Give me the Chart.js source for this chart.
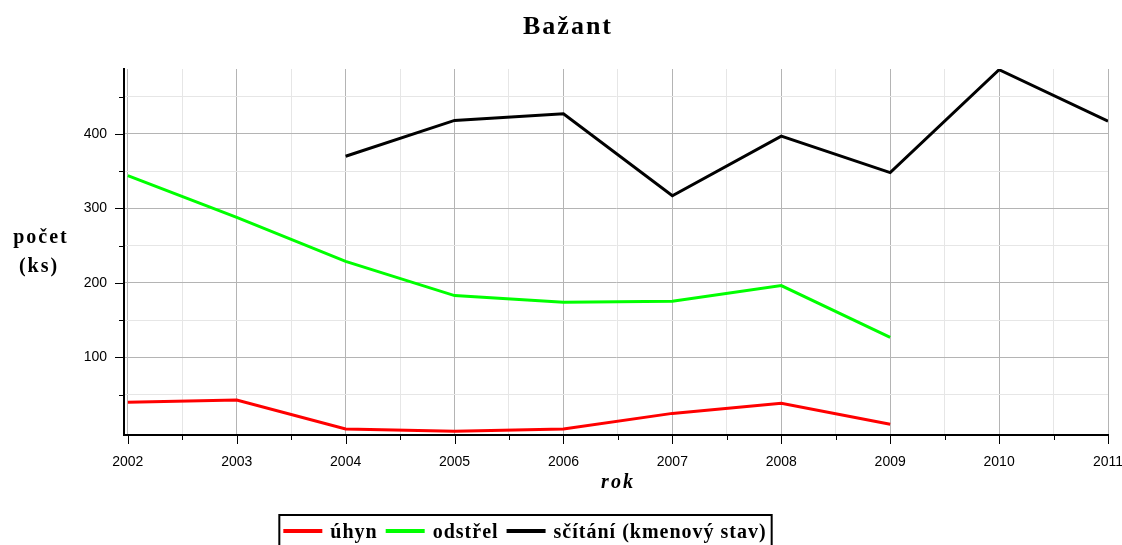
<!DOCTYPE html>
<html>
<head>
<meta charset="utf-8">
<script src="https://cdn.jsdelivr.net/npm/chart.js@4/dist/chart.umd.min.js"></script>
<style>
    body { margin: 0; background: #fff; }
    canvas { display: block; }
</style>
</head>
<body>
<canvas id="graf" width="1122" height="545"></canvas>
<script>
// data
const roky = [2002, 2003, 2004, 2005, 2006, 2007, 2008, 2009, 2010, 2011]
const uhyn = [40, 43, 4, 1, 4, 25, 38.5, 10.5, null, null]
const odstrel = [344, 288, 229, 183, 174, 175.5, 196.5, 127, null, null]
const scitani = [null, null, 370, 418, 427, 317, 397, 348, 486, 417]

const nazvy = ['úhyn', 'odstřel', 'sčítání (kmenový stav)']
const barvy = ['#ff0000', '#00ff00', '#000000']

const yTicky = [50, 100, 150, 200, 250, 300, 350, 400, 450]
const xTicky = [2002, 2002.5, 2003, 2003.5, 2004, 2004.5, 2005, 2005.5, 2006, 2006.5,
    2007, 2007.5, 2008, 2008.5, 2009, 2009.5, 2010, 2010.5, 2011]

const titulek = 'Bažant'
const popisY = ['počet', '(ks)']
const popisX = 'rok'

const serif = '"Liberation Serif", "Times New Roman", serif'

function body(hodnoty) {
    return roky.map((r, i) => ({ x: r, y: hodnoty[i] }))
}

// texty, čárky na osách a legenda
const kresleni = {
    id: 'kresleni',
    afterDraw(chart) {
        const c = chart.ctx
        const xs = chart.scales.x
        const ys = chart.scales.y
        const ca = chart.chartArea

        c.save()
        c.strokeStyle = '#000'
        c.lineWidth = 1
        c.beginPath()
        yTicky.forEach(v => {
            const py = Math.round(ys.getPixelForValue(v)) + 0.5
            const d = v % 100 === 0 ? 9 : 5
            c.moveTo(ca.left - d, py)
            c.lineTo(ca.left, py)
        })
        xTicky.forEach(v => {
            const px = Math.round(xs.getPixelForValue(v)) + 0.5
            const d = v % 1 === 0 ? 9 : 5
            c.moveTo(px, ca.bottom)
            c.lineTo(px, ca.bottom + d)
        })
        c.stroke()

        c.fillStyle = '#000'
        c.textAlign = 'center'
        c.textBaseline = 'alphabetic'

        c.font = 'bold 26px ' + serif
        c.letterSpacing = '2px'
        c.fillText(titulek, 568, 34)

        c.font = 'bold 20px ' + serif
        c.fillText(popisY[0], 41, 243)
        c.fillText(popisY[1], 39, 272)

        c.font = 'bold italic 20px ' + serif
        c.fillText(popisX, 618, 488)

        // legenda
        c.font = 'bold 20px ' + serif
        c.letterSpacing = '1px'
        const delkaCary = 39
        const mezera = 8
        let sirka = 0
        const sirky = chart.data.datasets.map(ds => c.measureText(ds.label).width)
        sirky.forEach(w => { sirka += delkaCary + mezera + w + mezera })
        sirka -= mezera
        const x0 = 525 - sirka / 2
        c.lineWidth = 2
        c.strokeRect(x0 - 4, 515, sirka + 9, 40)

        let x = x0
        c.textAlign = 'left'
        chart.data.datasets.forEach((ds, i) => {
            c.strokeStyle = ds.borderColor
            c.lineWidth = 4
            c.beginPath()
            c.moveTo(x, 531)
            c.lineTo(x + delkaCary, 531)
            c.stroke()
            x += delkaCary + mezera
            c.fillText(ds.label, x, 538)
            x += sirky[i] + mezera
        })
        c.restore()
    }
}

const graf = new Chart(document.getElementById('graf').getContext('2d'), {
    type: 'line',
    data: {
        datasets: [
            { label: nazvy[0], data: body(uhyn), borderColor: barvy[0] },
            { label: nazvy[1], data: body(odstrel), borderColor: barvy[1] },
            { label: nazvy[2], data: body(scitani), borderColor: barvy[2] }
        ]
    },
    options: {
        responsive: false,
        animation: false,
        devicePixelRatio: 1,
        layout: { padding: { top: 69, right: 14, left: 0, bottom: 0 } },
        elements: {
            line: { borderWidth: 3, tension: 0, fill: false },
            point: { radius: 0, hoverRadius: 0 }
        },
        plugins: {
            legend: { display: false },
            title: { display: false },
            tooltip: { enabled: false }
        },
        scales: {
            x: {
                type: 'linear',
                min: 2001.965,
                max: 2011,
                afterBuildTicks: s => { s.ticks = xTicky.map(v => ({ value: v })) },
                afterFit: s => {
                    s.height = 110
                    s.paddingLeft = 0
                    s.paddingRight = 0
                },
                grid: {
                    drawTicks: false,
                    color: ctx => ctx.tick && ctx.tick.value % 1 === 0 ? '#b4b4b4' : '#e6e6e6',
                    lineWidth: 1
                },
                border: { display: true, color: '#000', width: 2 },
                ticks: {
                    autoSkip: false,
                    maxRotation: 0,
                    padding: 19,
                    color: '#000',
                    font: { family: '"Liberation Sans", Arial, sans-serif', size: 14 },
                    callback: v => v % 1 === 0 ? String(v) : ''
                }
            },
            y: {
                min: -4,
                max: 487,
                afterBuildTicks: s => { s.ticks = yTicky.map(v => ({ value: v })) },
                afterFit: s => {
                    s.width = 124
                    s.paddingTop = 0
                    s.paddingBottom = 0
                },
                grid: {
                    drawTicks: false,
                    color: ctx => ctx.tick && ctx.tick.value % 100 === 0 ? '#b4b4b4' : '#e6e6e6',
                    lineWidth: 1
                },
                border: { display: true, color: '#000', width: 2 },
                ticks: {
                    padding: 17,
                    color: '#000',
                    font: { family: '"Liberation Sans", Arial, sans-serif', size: 14 },
                    callback: v => v % 100 === 0 ? String(v) : ''
                }
            }
        }
    },
    plugins: [kresleni]
})
</script>
</body>
</html>
